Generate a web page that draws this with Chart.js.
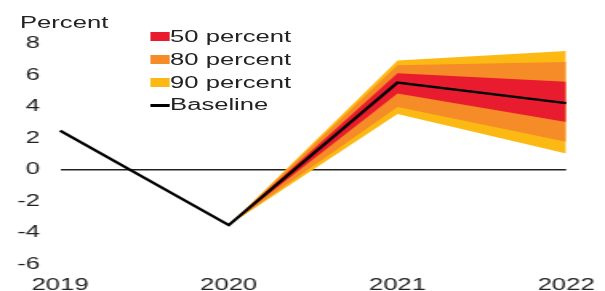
<!DOCTYPE html>
<html lang="en">
<head>
    <meta charset="UTF-8">
    <title>Percent fan chart</title>
    <script src="https://cdn.jsdelivr.net/npm/chart.js"></script>
    <style>
        * {
            margin: 0;
            padding: 0;
            box-sizing: border-box;
        }

        body {
            width: 605px;
            height: 291px;
            overflow: hidden;
            background: #fff;
            font-family: "Liberation Sans", Arial, sans-serif;
            color: #222;
        }

        /* the original picture is stretched sideways, so draw narrow and widen */
        #wrap {
            position: absolute;
            left: 0;
            top: 0;
            width: 378px;
            height: 296px;
            transform: scaleX(1.6005);
            transform-origin: 0 0;
        }

        .unit {
            position: absolute;
            left: 12.5px;
            top: 15.4px;
            font-size: 16px;
            line-height: 16px;
        }

        .legend {
            position: absolute;
            left: 93.75px;
            top: 26px;
        }

        .legend .row {
            display: flex;
            align-items: center;
            height: 22.8px;
            font-size: 16px;
            line-height: 22.8px;
        }

        .legend .box {
            width: 12.5px;
            height: 9px;
            margin-top: -1px;
        }

        .legend .line {
            width: 12.5px;
            height: 3px;
            background: #000;
        }
    </style>
</head>
<body>

<div id="wrap">
    <canvas id="fanChart"></canvas>
    <div class="unit">Percent</div>
    <div class="legend">
        <div class="row"><span class="box" style="background:#E81C2E"></span>50 percent</div>
        <div class="row"><span class="box" style="background:#F58C28"></span>80 percent</div>
        <div class="row"><span class="box" style="background:#FDB913"></span>90 percent</div>
        <div class="row"><span class="line"></span>Baseline</div>
    </div>
</div>

<script>
    const years = ['2019', '2020', '2021', '2022'];
    const baseline = [2.5, -3.5, 5.55, 4.25];

    const band90hi = [null, -3.5, 6.95, 7.55];
    const band80hi = [null, -3.5, 6.65, 6.85];
    const band50hi = [null, -3.5, 6.15, 5.6];
    const band50lo = [null, -3.5, 4.85, 3.05];
    const band80lo = [null, -3.5, 4.0, 1.8];
    const band90lo = [null, -3.5, 3.55, 1.05];

    const yTicks = [-6, -4, -2, 0, 2, 4, 6, 8];

    const RED = '#E81C2E';
    const ORANGE = '#F58C28';
    const YELLOW = '#FDB913';
    const FONT = { family: '"Liberation Sans", Arial, sans-serif', size: 16 };

    function edge(data, order) {
        return {
            data: data,
            borderWidth: 0,
            pointRadius: 0,
            fill: false,
            order: order
        };
    }

    function band(data, target, color, order) {
        return {
            data: data,
            borderWidth: 0,
            pointRadius: 0,
            backgroundColor: color,
            fill: { target: target },
            order: order
        };
    }

    new Chart(document.getElementById('fanChart'), {
        type: 'line',
        data: {
            labels: years,
            datasets: [
                edge(band90hi, 3),
                band(band90lo, 0, YELLOW, 3),
                edge(band80hi, 2),
                band(band80lo, 2, ORANGE, 2),
                edge(band50hi, 1),
                band(band50lo, 4, RED, 1),
                {
                    data: baseline,
                    borderColor: '#000',
                    borderWidth: 2.3,
                    pointRadius: 0,
                    fill: false,
                    order: 0
                }
            ]
        },
        options: {
            responsive: true,
            maintainAspectRatio: false,
            animation: false,
            layout: {
                padding: { left: 10.8, right: 24.25, top: 44, bottom: 0 }
            },
            plugins: {
                legend: { display: false },
                tooltip: { enabled: false }
            },
            scales: {
                x: {
                    offset: false,
                    grid: { display: false, drawTicks: false },
                    border: { display: false },
                    ticks: { padding: 11.5, maxRotation: 0, color: '#222', font: FONT },
                    afterFit: function (scale) {
                        scale.height = 31.5;
                        scale.paddingLeft = 0;
                        scale.paddingRight = 0;
                    }
                },
                y: {
                    min: yTicks[0],
                    max: yTicks[yTicks.length - 1],
                    afterBuildTicks: function (scale) {
                        scale.ticks = yTicks.map(v => ({ value: v }));
                    },
                    afterFit: function (scale) {
                        scale.width = 26.7;
                    },
                    grid: {
                        drawTicks: false,
                        color: ctx => ctx.tick && ctx.tick.value === 0 ? '#222' : 'transparent',
                        lineWidth: 1.5
                    },
                    border: { display: false },
                    ticks: { padding: 12.5, color: '#222', font: FONT }
                }
            }
        }
    });
</script>

</body>
</html>
